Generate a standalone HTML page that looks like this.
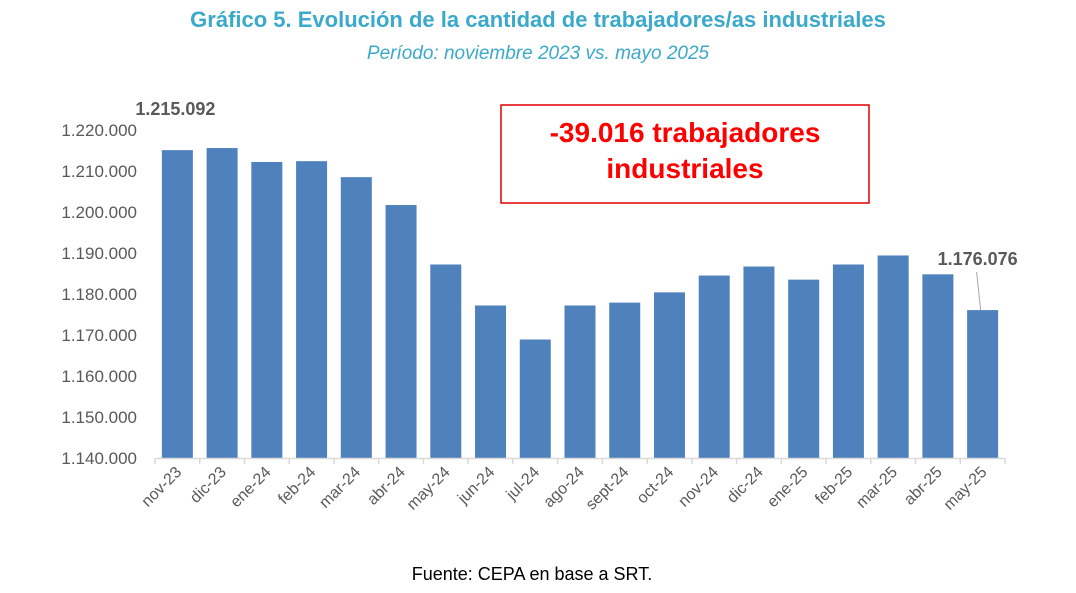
<!DOCTYPE html>
<html><head><meta charset="utf-8"><style>
body{margin:0;width:1076px;height:588px;background:#fff;font-family:"Liberation Sans",sans-serif;overflow:hidden}
</style></head><body>
<svg width="1076" height="588" id="c">
<text x="538" y="27" text-anchor="middle" font-size="22" font-weight="bold" fill="#3ba9c9">Gráfico 5. Evolución de la cantidad de trabajadores/as industriales</text>
<text x="538" y="59" text-anchor="middle" font-size="19" font-style="italic" fill="#3ba9c9">Período: noviembre 2023 vs. mayo 2025</text>
<rect x="501" y="105" width="368" height="98" fill="#fff" stroke="#e00000" stroke-width="1.5"/>
<text x="685" y="142" text-anchor="middle" font-size="28" font-weight="bold" fill="#ff0000">-39.016 trabajadores</text>
<text x="685" y="178" text-anchor="middle" font-size="28" font-weight="bold" fill="#ff0000">industriales</text>
<text x="532" y="580" text-anchor="middle" font-size="18" fill="#000">Fuente: CEPA en base a SRT.</text>
<g id="plot"></g>
</svg>
<script>
const categories=["nov-23","dic-23","ene-24","feb-24","mar-24","abr-24","may-24","jun-24","jul-24","ago-24","sept-24","oct-24","nov-24","dic-24","ene-25","feb-25","mar-25","abr-25","may-25"];
const values=[1215092,1215600,1212200,1212400,1208500,1201700,1187200,1177200,1168900,1177200,1177900,1180400,1184500,1186700,1183500,1187200,1189400,1184800,1176076];
const yTicks=[1140000,1150000,1160000,1170000,1180000,1190000,1200000,1210000,1220000];
const NS="http://www.w3.org/2000/svg";
const g=document.getElementById('plot');
const x0=155,x1=1005,yMin=1140000,yMax=1220000,py0=458,py1=130;
const step=(x1-x0)/categories.length;
const y=v=>py0-(v-yMin)/(yMax-yMin)*(py0-py1);
const xc=i=>x0+step*(i+0.5);
const fmt=v=>v.toString().replace(/\B(?=(\d{3})+(?!\d))/g,'.');
function el(t,a){const e=document.createElementNS(NS,t);for(const k in a)e.setAttribute(k,a[k]);g.appendChild(e);return e;}
yTicks.forEach(v=>{const t=el('text',{x:137,y:y(v)+6,'text-anchor':'end','font-size':17,fill:'#595959'});t.textContent=fmt(v);

});
values.forEach((v,i)=>{const r=el('rect',{x:xc(i)-15.5,y:y(v),width:31,height:py0-y(v),fill:'#4f81bd'});

});
const ax=el('line',{x1:x0,y1:py0+0.5,x2:x1,y2:py0+0.5,stroke:'#d9d9d9','stroke-width':1.5});


for(let i=0;i<=categories.length;i++){const t=el('line',{x1:x0+step*i,y1:py0,x2:x0+step*i,y2:py0+6,stroke:'#d9d9d9','stroke-width':1.5});

}
categories.forEach((c,i)=>{const t=el('text',{x:xc(i)+5,y:py0+15,'text-anchor':'end','font-size':16,fill:'#595959',transform:`rotate(-45 ${xc(i)+5} ${py0+15})`});t.textContent=c;

});
const f=el('text',{x:xc(0)-2,y:y(values[0])-35,'text-anchor':'middle','font-size':18,'font-weight':'bold',fill:'#595959'});f.textContent=fmt(values[0]);


const n=values.length-1;
const l=el('text',{x:xc(n)-5,y:y(values[n])-45,'text-anchor':'middle','font-size':18,'font-weight':'bold',fill:'#595959'});l.textContent=fmt(values[n]);


const ll=el('line',{x1:xc(n)-6,y1:y(values[n])-38,x2:xc(n)-2,y2:y(values[n]),stroke:'#a6a6a6','stroke-width':1});


</script>
</body></html>
